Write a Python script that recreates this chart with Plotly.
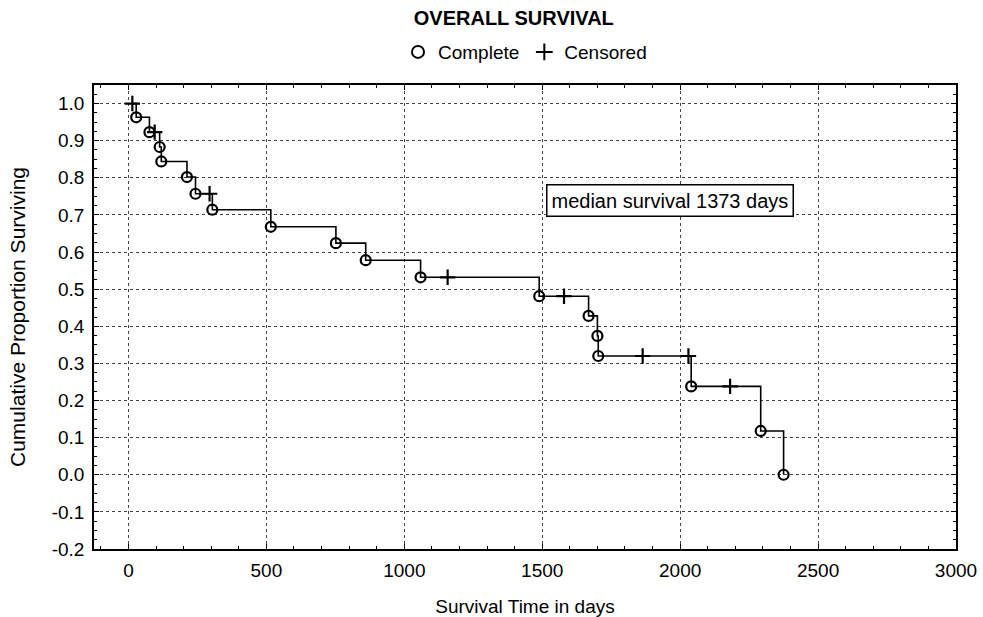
import plotly.graph_objects as go

# Complete (event) observations
complete_days = [28, 76, 113, 119, 212, 243, 304, 516, 752, 860, 1059, 1489, 1668, 1700, 1703, 2040, 2292, 2375]
complete_surv = [0.963, 0.923, 0.883, 0.844, 0.802, 0.757, 0.714, 0.668, 0.624, 0.578, 0.532, 0.481, 0.428, 0.374, 0.320, 0.238, 0.118, 0.0]

# Censored observations
censored_days = [14, 95, 294, 1157, 1579, 1864, 2030, 2181]
censored_surv = [1.0, 0.923, 0.757, 0.532, 0.481, 0.320, 0.320, 0.238]

x_ticks = [0, 500, 1000, 1500, 2000, 2500, 3000]
y_ticks = [1.0, 0.9, 0.8, 0.7, 0.6, 0.5, 0.4, 0.3, 0.2, 0.1, 0.0, -0.1, -0.2]
y_tick_labels = ["%.1f" % v for v in y_ticks]

median_text = "median survival 1373 days"

# step curve built from all observations in time order
pts = sorted(list(zip(complete_days, complete_surv)) + list(zip(censored_days, censored_surv)))
curve_x = [p[0] for p in pts]
curve_y = [p[1] for p in pts]

FONT = "Liberation Sans, Arial, sans-serif"

fig = go.Figure()
fig.add_trace(go.Scatter(x=curve_x, y=curve_y, mode="lines", line=dict(shape="hv", color="black", width=1.6),
                         showlegend=False, hoverinfo="skip"))
fig.add_trace(go.Scatter(x=complete_days, y=complete_surv, mode="markers", name="Complete",
                         marker=dict(symbol="circle-open", size=10, color="black", line=dict(width=2.2, color="black"))))
fig.add_trace(go.Scatter(x=censored_days, y=censored_surv, mode="markers", name="Censored",
                         marker=dict(symbol="cross-thin", size=11, color="black", line=dict(width=2.2, color="black"))))

fig.add_annotation(x=1963, y=0.738, xref="x", yref="y", text=median_text, showarrow=False,
                   font=dict(family=FONT, size=20, color="black"), bgcolor="white",
                   bordercolor="black", borderwidth=1.5, borderpad=4)

axis_common = dict(showline=True, linecolor="black", linewidth=1.5, mirror="allticks",
                   ticks="inside", ticklen=5, tickcolor="black", automargin=False,
                   showgrid=True, gridcolor="#444", griddash="dot", gridwidth=1,
                   zeroline=False, tickfont=dict(family=FONT, size=19, color="black"))

fig.update_xaxes(range=[-125, 3000], tickvals=x_ticks, ticktext=[str(v) for v in x_ticks],
                 ticklabelstandoff=3,
                 title=dict(text="Survival Time in days", font=dict(family=FONT, size=19, color="black"), standoff=28),
                 minor=dict(dtick=100, ticks="inside", ticklen=3, tickcolor="black", showgrid=False),
                 **axis_common)
fig.update_yaxes(range=[-0.2, 1.05], tickvals=y_ticks, ticktext=y_tick_labels,
                 ticklabelstandoff=4,
                 title=dict(text="Cumulative Proportion Surviving", font=dict(family=FONT, size=21, color="black"), standoff=20),
                 minor=dict(dtick=0.025, ticks="inside", ticklen=3, tickcolor="black", showgrid=False),
                 **axis_common)

fig.update_layout(
    width=983, height=617,
    margin=dict(l=94, r=27, t=85, b=68),
    paper_bgcolor="white", plot_bgcolor="white",
    title=dict(text="<b>OVERALL SURVIVAL</b>", x=0.487, xref="paper", xanchor="center",
               y=1 - 18 / 617, yref="container", yanchor="middle",
               font=dict(family=FONT, size=20, color="black")),
    legend=dict(orientation="h", x=0.5, xanchor="center", y=1.071, yanchor="middle",
                font=dict(family=FONT, size=19, color="black"), bgcolor="rgba(0,0,0,0)",
                itemsizing="constant"),
)

fig.write_html("out.html", config={"displayModeBar": False})

# remove the browser's default page margin so the figure fills the window exactly
with open("out.html", "r", encoding="utf-8") as f:
    html = f.read()
html = html.replace("<body>", '<body style="margin:0;padding:0;overflow:hidden;">', 1)
with open("out.html", "w", encoding="utf-8") as f:
    f.write(html)
